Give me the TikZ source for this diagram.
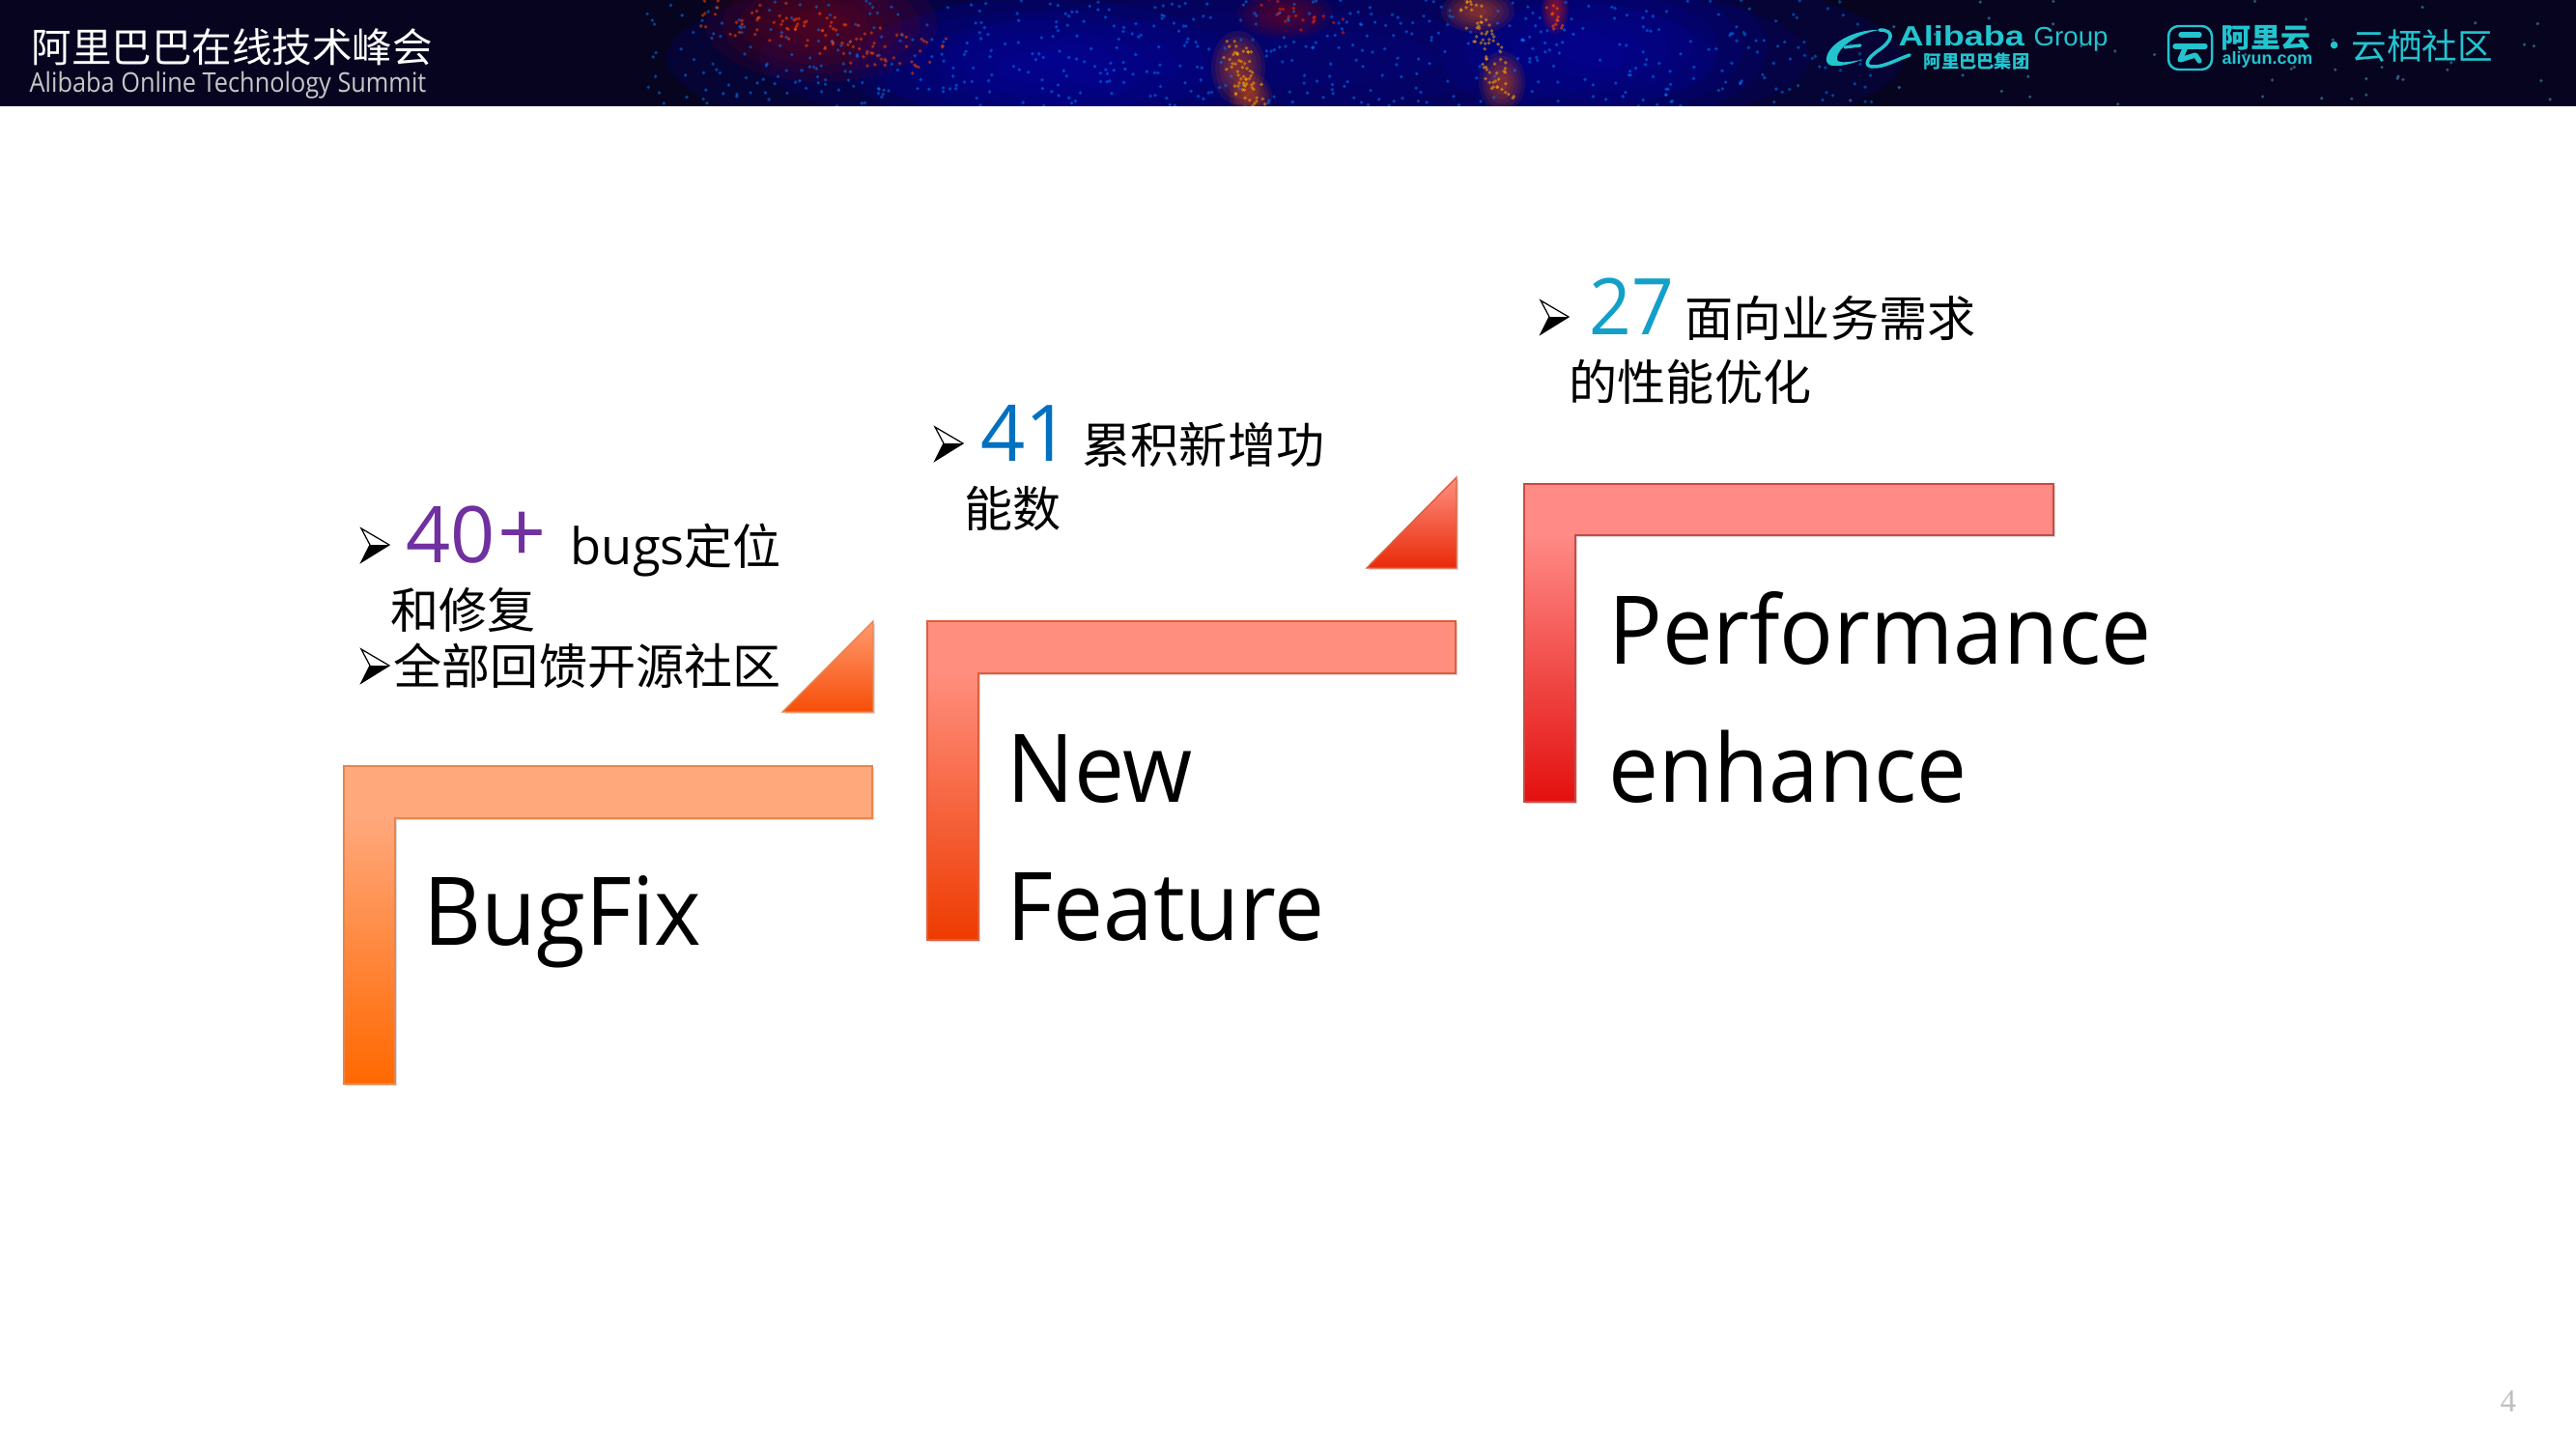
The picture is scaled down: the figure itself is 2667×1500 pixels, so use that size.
\documentclass[tikz,border=0pt]{standalone}
\usepackage{fontspec}
\setmainfont[FakeStretch=0.945]{Open Sans}
\newfontfamily\numfont[FakeStretch=1.0]{Open Sans}
\newfontfamily\cjk{Noto Sans CJK SC}
\newfontfamily\cjkwide[FakeStretch=1.1]{Noto Sans CJK SC}
\newfontfamily\serifnum{Liberation Serif}
\newfontfamily\subfont[FakeStretch=0.9]{Open Sans}
\newfontfamily\arialwide[FakeStretch=1.25]{Liberation Sans}
\newfontfamily\arialplain{Liberation Sans}
\definecolor{bandbg}{HTML}{070420}
\definecolor{cyanlogo}{HTML}{22C4CE}
\definecolor{oneT}{HTML}{FFA87C}\definecolor{oneB}{HTML}{FF6800}\definecolor{oneE}{HTML}{E5864E}
\definecolor{twoT}{HTML}{FF8E7E}\definecolor{twoB}{HTML}{EE3B00}\definecolor{twoE}{HTML}{D9603F}
\definecolor{thrT}{HTML}{FF8A86}\definecolor{thrB}{HTML}{E3100F}\definecolor{thrE}{HTML}{C84A45}
\definecolor{triOneT}{HTML}{FF9A70}\definecolor{triOneB}{HTML}{F74E08}
\definecolor{triTwoT}{HTML}{FF8F80}\definecolor{triTwoB}{HTML}{E82A08}
\definecolor{numP}{HTML}{7030A0}\definecolor{numB}{HTML}{0070C0}\definecolor{numC}{HTML}{13A0C8}
\pgfdeclareverticalshading{lshadeOne}{100bp}{color(0bp)=(oneB);color(25bp)=(oneB);color(67bp)=(oneT);color(100bp)=(oneT)}
\pgfdeclareverticalshading{lshadeTwo}{100bp}{color(0bp)=(twoB);color(25bp)=(twoB);color(67bp)=(twoT);color(100bp)=(twoT)}
\pgfdeclareverticalshading{lshadeThr}{100bp}{color(0bp)=(thrB);color(25bp)=(thrB);color(67bp)=(thrT);color(100bp)=(thrT)}
\newcommand{\fs}[1]{\fontsize{#1}{#1}\selectfont}
\newcommand{\blob}[6]{\foreach \k in {1,0.85,0.7,0.55,0.4,0.25}{\fill[#5,opacity=#6] (#1,#2) ellipse[x radius=\k*#3,y radius=\k*#4];}}
% jittered dots along a line: x1 y1 x2 y2 spread count colour
\newcommand{\streak}[7]{\foreach \i in {1,...,#6}{
  \pgfmathsetmacro{\tt}{rnd}
  \pgfmathsetmacro{\px}{#1+(#3-#1)*\tt+#5*(rnd-.5)}
  \pgfmathsetmacro{\py}{#2+(#4-#2)*\tt+#5*.4*(rnd-.5)}
  \fill[#7,opacity=.55] (\px,\py) circle[radius=1.9];}}
\newcommand{\Lpath}[6]{(#1,#3) -- (#2,#3) -- (#2,#4) -- (#5,#4) -- (#5,#6) -- (#1,#6) -- cycle}
\newcommand{\bmark}[2]{\begin{scope}[shift={(#1,#2)}]
  \fill[white] (-29,-17) -- (0,0) -- (-20,0) -- cycle;
  \fill[black] (-20,0) -- (0,0) -- (-29,18) -- cycle;
  \draw[black,line width=0.35pt,line join=miter] (-20,0) -- (-29,-17) -- (0,0) -- (-29,18) -- cycle;
\end{scope}}
\tikzset{
  x=0.01cm,y=-0.01cm,
  label/.style={anchor=base west,inner sep=0pt,text=black},
  big/.style={label,font=\fs{27.9}},
  cn/.style={label,font=\cjk\fs{14.25}},
  num/.style={label,font=\numfont\fs{23}},
}
\begin{document}
\begin{tikzpicture}
\useasboundingbox (0,0) rectangle (2667,1500);
\fill[white] (0,0) rectangle (2667,1500);
% header band
\fill[bandbg] (0,0) rectangle (2667,110);
\begin{scope}
\clip (0,0) rectangle (2667,110);
\blob{1330}{60}{640}{120}{blue!45!bandbg}{.22}
\blob{1080}{70}{200}{70}{blue!60!bandbg}{.15}
\blob{1660}{50}{170}{80}{blue!60!bandbg}{.15}
\blob{850}{25}{120}{60}{red!45!bandbg}{.14}
\blob{1282}{70}{28}{38}{orange!75!red}{.1}
\blob{1295}{100}{22}{24}{orange!75!red}{.1}
\blob{1530}{12}{38}{22}{orange!75!red}{.1}
\blob{1555}{85}{24}{32}{orange!75!red}{.1}
\blob{1610}{10}{14}{25}{red!70!orange}{.1}
\blob{1330}{15}{50}{25}{red!50!bandbg}{.12}
\pgfmathsetseed{7}
\foreach \i in {1,...,560}{
  \pgfmathsetmacro{\px}{670+1270*rnd}
  \pgfmathsetmacro{\py}{110*rnd}
  \fill[blue!50!cyan,opacity=.5] (\px,\py) circle[radius=1.9];
}
\streak{750}{10}{945}{60}{90}{110}{orange!55!red}
\streak{1275}{40}{1298}{110}{30}{60}{orange!70!yellow}
\streak{1520}{0}{1562}{100}{30}{70}{orange!70!yellow}
\streak{1605}{0}{1615}{30}{14}{14}{orange!70!red}
\streak{1310}{0}{1380}{30}{40}{22}{red!70!orange}
\foreach \i in {1,...,45}{
  \pgfmathsetmacro{\px}{1900+767*rnd}
  \pgfmathsetmacro{\py}{110*rnd}
  \fill[cyan!60!white,opacity=.4] (\px,\py) circle[radius=1.8];
}
\end{scope}
\node[label,text=white,font=\cjk\fs{11.8}] (title) at (32,65) {阿里巴巴在线技术峰会};
\node[label,text=white!78!black,font=\subfont\fs{8}] (subtitle) at (30,96) {Alibaba Online Technology Summit};
% Alibaba logo mark
\fill[cyanlogo] (1946,31) .. controls (1920,30) and (1893,45) .. (1891,60) .. controls (1890,67) and (1895,69) .. (1905,68) .. controls (1912,67) and (1920,65) .. (1927,62) .. controls (1915,64) and (1904,66) .. (1902,62) .. controls (1900,52) and (1920,35) .. (1946,31) -- cycle;
\draw[cyanlogo,line width=0.9pt,line cap=round] (1910,49) -- (1926,47);
\draw[cyanlogo,line width=1pt,line cap=round] (1946,31) .. controls (1962,31) and (1960,42) .. (1945,52) .. controls (1932,61) and (1930,68) .. (1938,69) .. controls (1950,70) and (1965,61) .. (1977,57);
\node[label,text=cyanlogo,font=\arialwide\bfseries\fs{8.2}] (alibaba) at (1965,48) {Alibaba};
\node[label,text=cyanlogo,font=\arialplain\fs{7.85}] (group) at (2105,48) {Group};
\node[label,text=cyanlogo,font=\cjk\bfseries\fs{5.2}] (jituan) at (1991,71) {阿里巴巴集团};
% aliyun logo
\draw[cyanlogo,line width=0.7pt,rounded corners=3pt] (2245,27) rectangle (2290,72);
\draw[cyanlogo,line width=1.5pt,line cap=round] (2258,36) -- (2277,36);
\draw[cyanlogo,line width=1.5pt,line cap=round] (2252,48) -- (2283,48);
\draw[cyanlogo,line width=1.5pt,line cap=round,line join=round] (2263,48) -- (2257,62) -- (2273,57) -- (2277,63);
\node[label,text=cyanlogo,font=\cjkwide\bfseries\fs{8}] (aliyun) at (2299,50) {阿里云};
\node[label,text=cyanlogo,font=\arialplain\bfseries\fs{5.1}] (aliyuncom) at (2300,67) {aliyun.com};
\node[anchor=center,inner sep=0pt,text=cyanlogo,font=\cjk\fs{10}] (dot) at (2417,52) {·};
\node[label,text=cyanlogo,font=\cjk\fs{10.4}] (yunqi) at (2434,62) {云栖社区};
% shadows
\fill[black!14] [shift={(2,2)}] \Lpath{356}{903}{793}{847}{409}{1122};
\fill[black!14] [shift={(2,2)}] \Lpath{960}{1507}{643}{697}{1013}{973};
\fill[black!14] [shift={(2,2)}] \Lpath{1578}{2126}{501}{554}{1631}{830};
\fill[black!14] (812,739) -- (906,739) -- (906,645) -- cycle;
\fill[black!14] (1417,590) -- (1510,590) -- (1510,496) -- cycle;
% L shapes
\path[shade,shading=lshadeOne,draw=oneE,line width=0.5pt] \Lpath{356}{903}{793}{847}{409}{1122};
\path[shade,shading=lshadeTwo,draw=twoE,line width=0.5pt] \Lpath{960}{1507}{643}{697}{1013}{973};
\path[shade,shading=lshadeThr,draw=thrE,line width=0.5pt] \Lpath{1578}{2126}{501}{554}{1631}{830};
% triangles
\path[shade,top color=triOneT,bottom color=triOneB,draw=oneE,line width=0.4pt] (810,737) -- (904,737) -- (904,643) -- cycle;
\path[shade,top color=triTwoT,bottom color=triTwoB,draw=twoE,line width=0.4pt] (1415,588) -- (1508,588) -- (1508,494) -- cycle;
% big labels
\node[big] (bugfix) at (438,978) {BugFix};
\node[big] (new) at (1042,830) {New};
\node[big] (feature) at (1042,973) {Feature};
\node[big] (perf) at (1665,687) {Performance};
\node[big] (enh) at (1665,830) {enhance};
% column 1
\bmark{403}{564}
\node[num,text=numP] (n40) at (420,582) {40};
\node[num,text=numP,font=\numfont\fs{25}] (plus) at (515,582) {+};
\node[cn] (t1) at (590,584) {{\fontspec{Open Sans}\fs{14.9}bugs}定位};
\node[cn] (t1b) at (404,650) {和修复};
\bmark{403}{689}
\node[cn] (t2) at (407,708) {全部回馈开源社区};
% column 2
\bmark{997}{459}
\node[num,text=numB] (n41) at (1015,477) {41};
\node[cn] (t3) at (1120,479) {累积新增功};
\node[cn] (t3b) at (998,545) {能数};
% column 3
\bmark{1624}{328}
\node[num,text=numC,font=\fs{23}] (n27) at (1645,346) {27};
\node[cn] (t4) at (1744,348) {面向业务需求};
\node[cn] (t4b) at (1624,414) {的性能优化};
% page number
\node[label,text=black!25,font=\serifnum\fs{9.4}] (page) at (2588,1461) {4};
\end{tikzpicture}
\end{document}
